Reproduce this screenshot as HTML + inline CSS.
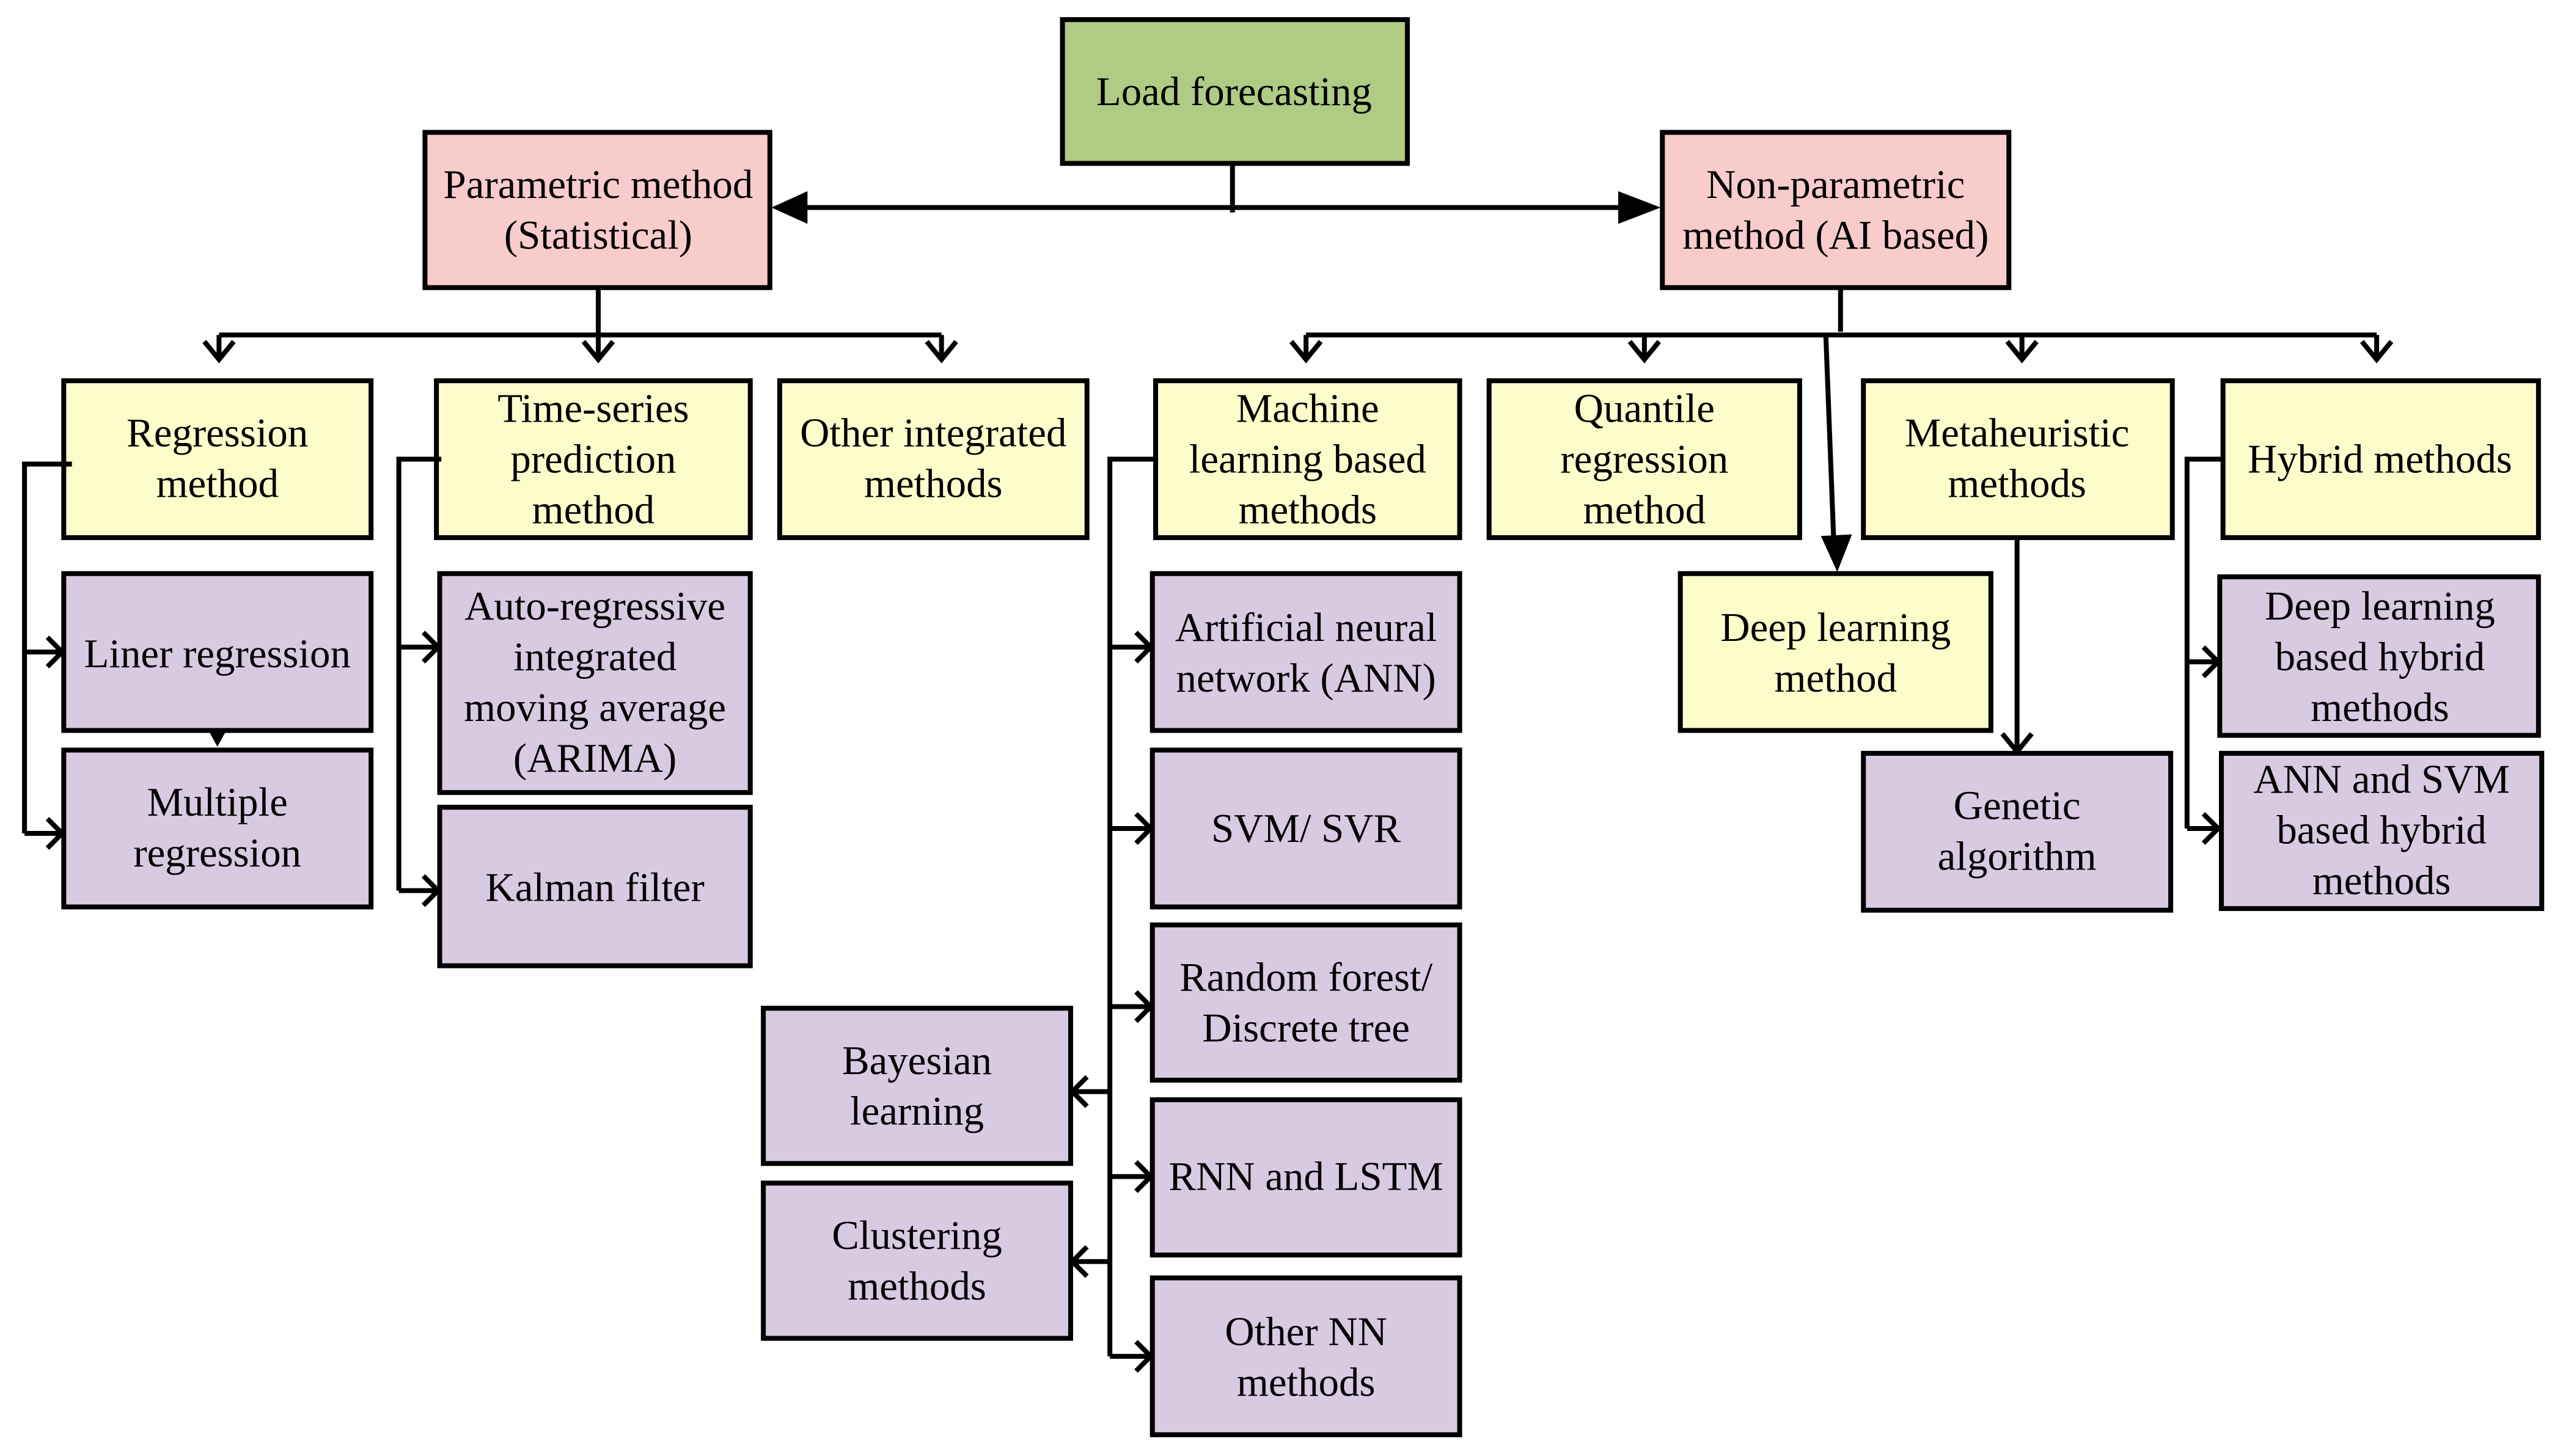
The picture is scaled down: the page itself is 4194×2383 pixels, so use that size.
<!DOCTYPE html>
<html><head><meta charset="utf-8"><style>html,body{margin:0;padding:0;background:#fff}svg{display:block}</style></head><body>
<svg xmlns="http://www.w3.org/2000/svg" width="4194" height="2383" viewBox="0 0 1568 891" preserveAspectRatio="none">
<g stroke="#000" stroke-width="3">
<rect x="650" y="12" width="211" height="88" fill="#b0cb84"/>
<rect x="260" y="81" width="211" height="95" fill="#f8cccb"/>
<rect x="1017" y="81" width="212" height="95" fill="#f8cccb"/>
<g fill="#fdfdcb">
<rect x="39" y="233" width="188" height="96"/>
<rect x="267" y="233" width="192" height="96"/>
<rect x="477" y="233" width="188" height="96"/>
<rect x="707" y="233" width="186" height="96"/>
<rect x="911" y="233" width="190" height="96"/>
<rect x="1140" y="233" width="189" height="96"/>
<rect x="1360" y="233" width="193" height="96"/>
<rect x="1028" y="351" width="190" height="96"/>
</g>
<g fill="#d8cae1">
<rect x="39" y="351" width="188" height="96"/>
<rect x="39" y="459" width="188" height="96"/>
<rect x="269" y="351" width="190" height="134"/>
<rect x="269" y="494" width="190" height="97"/>
<rect x="705" y="351" width="188" height="96"/>
<rect x="705" y="459" width="188" height="96"/>
<rect x="705" y="566" width="188" height="95"/>
<rect x="705" y="673" width="188" height="95"/>
<rect x="705" y="782" width="188" height="96"/>
<rect x="467" y="617" width="188" height="95"/>
<rect x="467" y="724" width="188" height="95"/>
<rect x="1140" y="461" width="188" height="96"/>
<rect x="1358" y="353" width="195" height="97"/>
<rect x="1359" y="461" width="196" height="95"/>
</g>
<g fill="none">
<path d="M754,100 V130"/>
<path d="M490,127 H996"/>
<path d="M366,176 V205 M134,205 H576 M134,205 V220 M366,205 V220 M576,205 V220"/>
<path d="M125,209 L134,220 L143,209 M357,209 L366,220 L375,209 M567,209 L576,220 L585,209"/>
<path d="M1126,176 V203 M799,205 H1454 M799,205 V220 M1006,205 V220 M1237,205 V220 M1454,205 V220"/>
<path d="M790,209 L799,220 L808,209 M997,209 L1006,220 L1015,209 M1228,209 L1237,220 L1246,209 M1445,209 L1454,220 L1463,209"/>
<path d="M1117,205 L1122,335"/>
<path d="M1234,329 V460 M1225,449 L1234,460 L1243,449"/>
<path d="M1359,281 H1338 V507 M1338,405 H1357 M1338,507 H1357 M1348,396 L1357,405 L1348,414 M1348,498 L1357,507 L1348,516"/>
<path d="M44,284 H15 V510 M15,399 H38 M15,510 H38 M29,390 L38,399 L29,408 M29,501 L38,510 L29,519"/>
<path d="M270,281 H244 V545 M244,396 H268 M244,545 H268 M259,387 L268,396 L259,405 M259,536 L268,545 L259,554"/>
<path d="M707,281 H679 V830 M679,396 H704 M679,507 H704 M679,616 H704 M679,720 H704 M679,830 H704"/>
<path d="M695,387 L704,396 L695,405 M695,498 L704,507 L695,516 M695,607 L704,616 L695,625 M695,711 L704,720 L695,729 M695,821 L704,830 L695,839"/>
<path d="M679,668 H656 M679,772 H656 M665,659 L656,668 L665,677 M665,763 L656,772 L665,781"/>
</g>
</g>
<g fill="#000">
<path d="M472,127 L494,117 L494,137 z"/>
<path d="M1016,127 L990,117 L990,137 z"/>
<path d="M1124,350 L1114,328 L1133,327 z"/>
<path d="M127,446 L139,446 L133,457 z"/>
</g>
<g font-family="'Liberation Serif', serif" font-size="25" text-anchor="middle" dominant-baseline="central" fill="#000">
<text x="755" y="56">Load forecasting</text>
<text x="366" y="113">Parametric method</text><text x="366" y="144">(Statistical)</text>
<text x="1123" y="113">Non-parametric</text><text x="1123" y="144">method (AI based)</text>
<text x="133" y="265">Regression</text><text x="133" y="296">method</text>
<text x="363" y="250">Time-series</text><text x="363" y="281">prediction</text><text x="363" y="312">method</text>
<text x="571" y="265">Other integrated</text><text x="571" y="296">methods</text>
<text x="800" y="250">Machine</text><text x="800" y="281">learning based</text><text x="800" y="312">methods</text>
<text x="1006" y="250">Quantile</text><text x="1006" y="281">regression</text><text x="1006" y="312">method</text>
<text x="1234" y="265">Metaheuristic</text><text x="1234" y="296">methods</text>
<text x="1456" y="281">Hybrid methods</text>
<text x="133" y="400">Liner regression</text>
<text x="133" y="491">Multiple</text><text x="133" y="522">regression</text>
<text x="364" y="371">Auto-regressive</text><text x="364" y="402">integrated</text><text x="364" y="433">moving average</text><text x="364" y="464">(ARIMA)</text>
<text x="364" y="543">Kalman filter</text>
<text x="799" y="384">Artificial neural</text><text x="799" y="415">network (ANN)</text>
<text x="799" y="507">SVM/ SVR</text>
<text x="799" y="598">Random forest/</text><text x="799" y="629">Discrete tree</text>
<text x="799" y="720">RNN and LSTM</text>
<text x="799" y="815">Other NN</text><text x="799" y="846">methods</text>
<text x="561" y="649">Bayesian</text><text x="561" y="680">learning</text>
<text x="561" y="756">Clustering</text><text x="561" y="787">methods</text>
<text x="1123" y="384">Deep learning</text><text x="1123" y="415">method</text>
<text x="1234" y="493">Genetic</text><text x="1234" y="524">algorithm</text>
<text x="1456" y="371">Deep learning</text><text x="1456" y="402">based hybrid</text><text x="1456" y="433">methods</text>
<text x="1457" y="477">ANN and SVM</text><text x="1457" y="508">based hybrid</text><text x="1457" y="539">methods</text>
</g>
</svg>
</body></html>
